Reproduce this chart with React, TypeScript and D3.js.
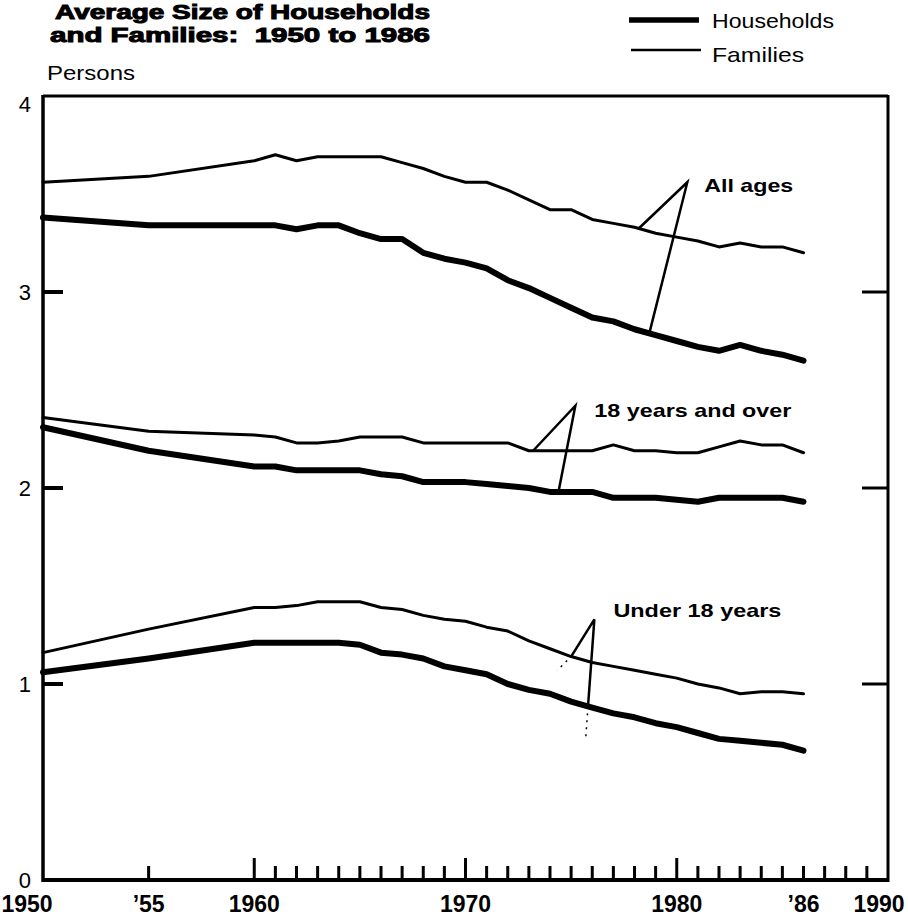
import * as d3 from 'd3';

// Census data: average number of persons per household / family
const years = [
  1950, 1955, 1960, 1961, 1962, 1963, 1964, 1965, 1966, 1967, 1968, 1969, 1970,
  1971, 1972, 1973, 1974, 1975, 1976, 1977, 1978, 1979, 1980, 1981, 1982, 1983,
  1984, 1985, 1986,
];

const householdsAllAges = [
  3.38, 3.34, 3.34, 3.34, 3.32, 3.34, 3.34, 3.30, 3.27, 3.27, 3.20, 3.17, 3.15,
  3.12, 3.06, 3.02, 2.97, 2.92, 2.87, 2.85, 2.81, 2.78, 2.75, 2.72, 2.70, 2.73,
  2.70, 2.68, 2.65,
];
const familiesAllAges = [
  3.56, 3.59, 3.67, 3.70, 3.67, 3.69, 3.69, 3.69, 3.69, 3.66, 3.63, 3.59, 3.56,
  3.56, 3.52, 3.47, 3.42, 3.42, 3.37, 3.35, 3.33, 3.30, 3.28, 3.26, 3.23, 3.25,
  3.23, 3.23, 3.20,
];
const householdsAdults = [
  2.31, 2.19, 2.11, 2.11, 2.09, 2.09, 2.09, 2.09, 2.07, 2.06, 2.03, 2.03, 2.03,
  2.02, 2.01, 2.00, 1.98, 1.98, 1.98, 1.95, 1.95, 1.95, 1.94, 1.93, 1.95, 1.95,
  1.95, 1.95, 1.93,
];
const familiesAdults = [
  2.36, 2.29, 2.27, 2.26, 2.23, 2.23, 2.24, 2.26, 2.26, 2.26, 2.23, 2.23, 2.23,
  2.23, 2.23, 2.19, 2.19, 2.19, 2.19, 2.22, 2.19, 2.19, 2.18, 2.18, 2.21, 2.24,
  2.22, 2.22, 2.18,
];
const householdsChildren = [
  1.06, 1.13, 1.21, 1.21, 1.21, 1.21, 1.21, 1.20, 1.16, 1.15, 1.13, 1.09, 1.07,
  1.05, 1.00, 0.97, 0.95, 0.91, 0.88, 0.85, 0.83, 0.80, 0.78, 0.75, 0.72, 0.71,
  0.70, 0.69, 0.66,
];
const familiesChildren = [
  1.16, 1.28, 1.39, 1.39, 1.40, 1.42, 1.42, 1.42, 1.39, 1.38, 1.35, 1.33, 1.32,
  1.29, 1.27, 1.22, 1.18, 1.14, 1.11, 1.09, 1.07, 1.05, 1.03, 1.00, 0.98, 0.95,
  0.96, 0.96, 0.95,
];

const yTicks = [0, 1, 2, 3, 4];
const xLabels = [
  { year: 1950, text: '1950' },
  { year: 1955, text: '\u201955' },
  { year: 1960, text: '1960' },
  { year: 1970, text: '1970' },
  { year: 1980, text: '1980' },
  { year: 1986, text: '\u201986' },
  { year: 1990, text: '1990' },
];
const tickYears = [
  1955, 1960, 1961, 1962, 1963, 1964, 1965, 1966, 1967, 1968, 1969, 1970, 1971,
  1972, 1973, 1974, 1975, 1976, 1977, 1978, 1979, 1980, 1981, 1982, 1983, 1984,
  1985, 1986, 1987, 1988, 1989,
];
const majorTickYears = [1960, 1970, 1980];

const groups = [
  {
    label: 'All ages',
    households: householdsAllAges,
    families: familiesAllAges,
    apex: [1980.5, 3.56],
    famYear: 1978.2,
    hhYear: 1978.7,
    text: [1981.3, 3.51],
    textWidth: 89,
    dotted: false,
  },
  {
    label: '18 years and over',
    households: householdsAdults,
    families: familiesAdults,
    apex: [1975.2, 2.42],
    famYear: 1973.2,
    hhYear: 1974.4,
    text: [1976.1, 2.36],
    textWidth: 197,
    dotted: false,
  },
  {
    label: 'Under 18 years',
    households: householdsChildren,
    families: familiesChildren,
    apex: [1976.1, 1.33],
    famYear: 1975.0,
    hhYear: 1975.8,
    text: [1977.0, 1.34],
    textWidth: 168,
    dotted: true,
  },
];

const WIDTH = 908;
const HEIGHT = 917;
const FONT = "'Liberation Sans', Arial, Helvetica, sans-serif";

// value of a series at any (fractional) year
const valueAt = (values: number[], year: number) =>
  d3.scaleLinear().domain(years).range(values).clamp(true)(year);

export default function App() {
  const x = d3.scaleLinear().domain([1950, 1990]).range([43, 888]);
  const y = d3.scaleLinear().domain([0, 4]).range([880, 96]);

  const line = d3
    .line<number>()
    .x((_, i) => x(years[i]))
    .y((d) => y(d));

  const x0 = x(1950);
  const x1 = x(1990);

  // label centres are nudged at the two ends so they stay inside the page
  const labelX = (yr: number) => (yr === 1950 ? 27 : yr === 1990 ? 879 : x(yr));

  return (
    <svg
      width={WIDTH}
      height={HEIGHT}
      style={{ position: 'absolute', left: 0, top: 0, background: '#fff' }}
      fontFamily={FONT}
    >
      <rect width={WIDTH} height={HEIGHT} fill="#fff" />

      {/* title */}
      <g fontWeight={900} fontSize={20} fill="#000" stroke="#000" strokeWidth={1}>
        <text x={55} y={19} textLength={375} lengthAdjust="spacingAndGlyphs">
          Average Size of Households
        </text>
        <text
          x={50}
          y={42}
          textLength={380}
          lengthAdjust="spacingAndGlyphs"
          style={{ whiteSpace: 'pre' }}
        >
          and Families:  1950 to 1986
        </text>
      </g>

      {/* legend */}
      <line x1={629} x2={699} y1={20} y2={20} stroke="#000" strokeWidth={5.5} />
      <line x1={631} x2={701} y1={50} y2={50} stroke="#000" strokeWidth={2.5} />
      <text x={712} y={28} fontSize={21} textLength={122} lengthAdjust="spacingAndGlyphs">
        Households
      </text>
      <text x={712} y={62} fontSize={21} textLength={92} lengthAdjust="spacingAndGlyphs">
        Families
      </text>

      <text x={47} y={80} fontSize={21} textLength={88} lengthAdjust="spacingAndGlyphs">
        Persons
      </text>

      {/* frame */}
      <g stroke="#000" fill="none">
        <line x1={x0} x2={x1} y1={y(4)} y2={y(4)} strokeWidth={3} />
        <line x1={x0} x2={x0} y1={y(4) - 1} y2={y(0) + 2} strokeWidth={3.5} />
        <line x1={x1} x2={x1} y1={y(4) - 1} y2={y(0) + 2} strokeWidth={3} />
        <line x1={x0} x2={x1} y1={y(0)} y2={y(0)} strokeWidth={4} />
        {yTicks
          .filter((t) => t > 0 && t < 4)
          .map((t) => (
            <g key={t}>
              <line x1={x0} x2={x0 + 20} y1={y(t)} y2={y(t)} strokeWidth={4} />
              <line x1={x1 - 26} x2={x1} y1={y(t)} y2={y(t)} strokeWidth={3} />
            </g>
          ))}
        {tickYears.map((yr) => (
          <line
            key={yr}
            x1={x(yr)}
            x2={x(yr)}
            y1={y(0)}
            y2={y(0) - (majorTickYears.includes(yr) ? 22 : 14)}
            strokeWidth={3}
          />
        ))}
      </g>

      {/* y tick labels */}
      <g fontSize={22} textAnchor="end">
        {yTicks.map((t) => (
          <text key={t} x={31} y={y(t) + (t === 4 ? 8 : 0)} dy="0.36em">
            {t}
          </text>
        ))}
      </g>

      {/* x labels */}
      <g fontSize={23} fontWeight="bold" textAnchor="middle">
        {xLabels.map((d) => (
          <text key={d.text} x={labelX(d.year)} y={912}>
            {d.text}
          </text>
        ))}
      </g>

      {/* series */}
      <g fill="none" stroke="#000" strokeLinejoin="round" strokeLinecap="round">
        {groups.map((g) => (
          <g key={g.label}>
            <path d={line(g.families) ?? ''} strokeWidth={3} />
            <path d={line(g.households) ?? ''} strokeWidth={6} />
          </g>
        ))}
      </g>

      {/* callouts */}
      {groups.map((g) => {
        const ax = x(g.apex[0]);
        const ay = y(g.apex[1]);
        const fx = x(g.famYear);
        const fy = y(valueAt(g.families, g.famYear));
        const hx = x(g.hhYear);
        const hy = y(valueAt(g.households, g.hhYear));
        const dx = hx - ax;
        const dyy = hy - ay;
        const len = Math.hypot(dx, dyy);
        return (
          <g key={g.label}>
            <polyline
              points={`${fx},${fy} ${ax},${ay} ${hx},${hy}`}
              fill="none"
              stroke="#000"
              strokeWidth={2.5}
              strokeLinejoin="miter"
            />
            {g.dotted && (
              <g stroke="#000" strokeWidth={1.5} strokeDasharray="2 5" fill="none">
                <line
                  x1={hx}
                  y1={hy}
                  x2={hx + (dx / len) * 30}
                  y2={hy + (dyy / len) * 30}
                />
                <line x1={fx - 4} y1={fy + 4} x2={fx - 14} y2={fy + 14} />
              </g>
            )}
            <text
              x={x(g.text[0])}
              y={y(g.text[1])}
              fontSize={19}
              fontWeight="bold"
              textLength={g.textWidth}
              lengthAdjust="spacingAndGlyphs"
            >
              {g.label}
            </text>
          </g>
        );
      })}
    </svg>
  );
}
